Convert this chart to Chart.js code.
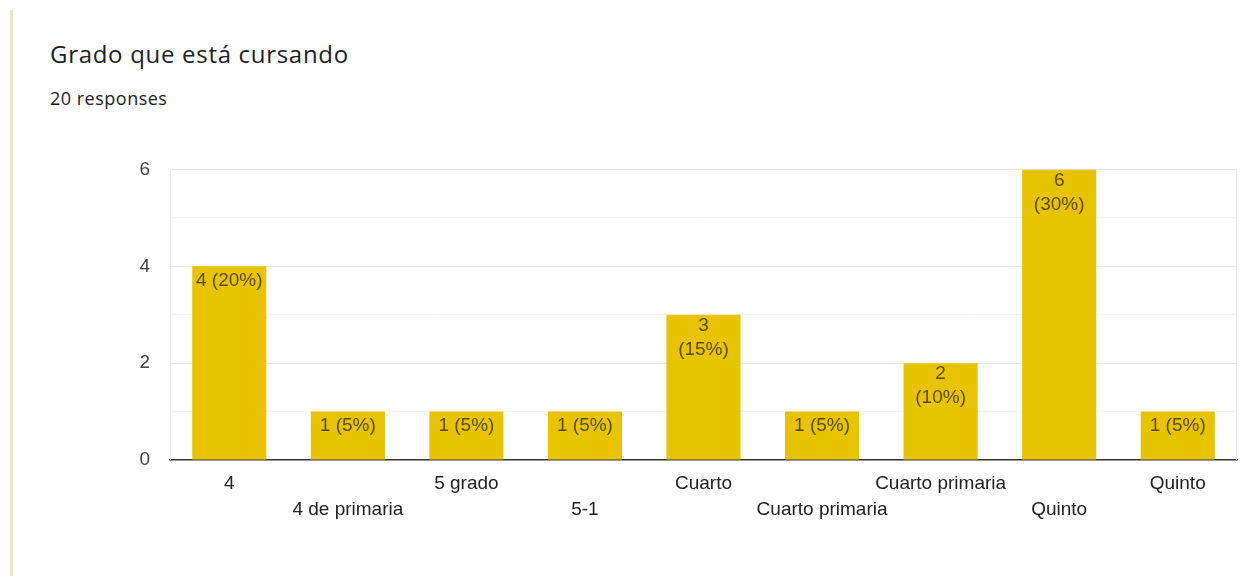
<!DOCTYPE html>
<html>
<head>
<meta charset="utf-8">
<script src="https://cdn.jsdelivr.net/npm/chart.js@4.4.0/dist/chart.umd.min.js"></script>
<style>
  body { margin: 0; background: #fff; width: 1246px; height: 578px; overflow: hidden; position: relative; font-family: "Open Sans", Roboto, Arial, sans-serif; }
  .edge { position: absolute; left: 10px; top: 10px; width: 3px; height: 566px; background: #ece6c4; }
  h1 { position: absolute; left: 50px; top: 42px; margin: 0; font-size: 24px; line-height: 24px; font-weight: 400; letter-spacing: 0.7px; color: #202124; }
  .sub { position: absolute; left: 50px; top: 89px; font-size: 18px; line-height: 18px; letter-spacing: 0.5px; color: #202124; }
  .wrap { position: absolute; left: 110px; top: 138px; width: 1136px; height: 402px; }
</style>
</head>
<body>
<div class="edge"></div>
<h1>Grado que está cursando</h1>
<div class="sub">20 responses</div>
<div class="wrap"><canvas id="grafik"></canvas></div>
<script>
// Data dari gambar
const kategori = ["4", "4 de primaria", "5 grado", "5-1", "Cuarto", "Cuarto primaria", "Cuarto primaria", "Quinto", "Quinto"];
const jumlah = [4, 1, 1, 1, 3, 1, 2, 6, 1];
const totalRespon = 20;
// label yang dipecah dua baris seperti aslinya
const labelDuaBaris = [false, false, false, false, true, false, true, true, false];
const yTicks = [0, 2, 4, 6];

const hurufGrafik = "Arial, 'Liberation Sans', sans-serif";

// tulisan di dalam batang
const labelBatang = {
  id: "labelBatang",
  afterDatasetsDraw(chart) {
    const { ctx } = chart;
    const meta = chart.getDatasetMeta(0);
    ctx.save();
    ctx.font = `19px ${hurufGrafik}`;
    ctx.fillStyle = "rgba(0,0,0,0.62)";
    ctx.textAlign = "center";
    ctx.textBaseline = "middle";
    meta.data.forEach((bar, i) => {
      const v = jumlah[i];
      const pct = `(${Math.round(v / totalRespon * 100)}%)`;
      if (labelDuaBaris[i]) {
        ctx.fillText(String(v), bar.x, bar.y + 11);
        ctx.fillText(pct, bar.x, bar.y + 35);
      } else {
        ctx.fillText(`${v} ${pct}`, bar.x, bar.y + 14);
      }
    });
    ctx.restore();
  }
};

// bingkai tipis area grafik
const bingkai = {
  id: "bingkai",
  beforeDatasetsDraw(chart) {
    const { ctx, chartArea: a } = chart;
    ctx.save();
    ctx.strokeStyle = "#ebebeb";
    ctx.lineWidth = 1;
    ctx.beginPath();
    ctx.moveTo(a.left + 0.5, a.bottom);
    ctx.lineTo(a.left + 0.5, a.top);
    ctx.moveTo(a.right - 0.5, a.top);
    ctx.lineTo(a.right - 0.5, a.bottom);
    ctx.stroke();
    ctx.restore();
  }
};

new Chart(document.getElementById("grafik"), {
  type: "bar",
  data: {
    labels: kategori,
    datasets: [{
      data: jumlah,
      backgroundColor: "#e8c300",
      categoryPercentage: 1,
      barPercentage: 0.625
    }]
  },
  options: {
    responsive: true,
    maintainAspectRatio: false,
    animation: false,
    layout: { padding: { top: 10, right: 9, left: 0, bottom: 0 } },
    plugins: { legend: { display: false }, tooltip: { enabled: false } },
    scales: {
      x: {
        grid: { display: false },
        border: { display: true, color: "#333", width: 1.5 },
        ticks: {
          autoSkip: false,
          maxRotation: 0,
          padding: 3,
          color: "#222",
          font: { family: hurufGrafik, size: 19, lineHeight: "26px" },
          callback: (val, i) => i % 2 ? ["", kategori[i]] : kategori[i]
        },
        afterFit: s => { s.height = 80; }
      },
      y: {
        min: 0,
        max: 6,
        border: { display: false },
        grid: {
          color: c => c.tick.value === 0 ? "transparent" : (c.tick.value % 2 ? "#f4f4f4" : "#e9e9e9"),
          drawTicks: false
        },
        ticks: {
          stepSize: 1,
          padding: 20,
          color: "#444",
          font: { family: hurufGrafik, size: 19 },
          callback: v => yTicks.includes(v) ? v : ""
        },
        afterFit: s => { s.width = 60; }
      }
    }
  },
  plugins: [bingkai, labelBatang]
});
</script>
</body>
</html>
